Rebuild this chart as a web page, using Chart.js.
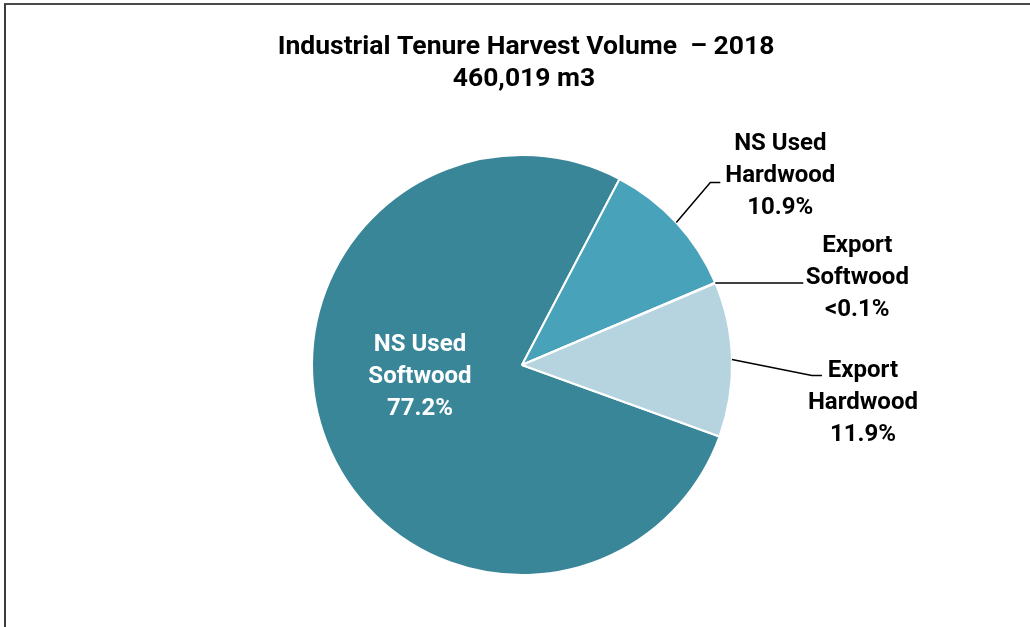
<!DOCTYPE html>
<html>
  <head>
    <title>Industrial Tenure Harvest Volume</title>
    <script src="https://cdn.jsdelivr.net/npm/chart.js"></script>
    <style>
      body { margin: 0; background: #fff; }
      #wrap { position: relative; width: 1030px; height: 627px; overflow: hidden; }
      #frame {
        position: absolute; left: 4px; top: 3px; width: 1100px; height: 700px;
        border-left: 2px solid #3c3c3c; border-top: 2px solid #4a4a4a;
      }
      canvas { position: absolute; left: 0; top: 0; }
    </style>
  </head>

  <body>
    <div id="wrap">
      <div id="frame"></div>
      <div style="position:absolute;left:0;top:0;width:1030px;height:627px">
        <canvas id="harvest"></canvas>
      </div>
    </div>

    <script>
      var titulo = ["Industrial Tenure Harvest Volume  \u2013 2018", "460,019 m3"];
      var categorias = ["NS Used Softwood", "NS Used Hardwood", "Export Softwood", "Export Hardwood"];
      var percentuais = [77.2, 10.9, 0.05, 11.9];
      var rotulos = [
        ["NS Used", "Softwood", "77.2%"],
        ["NS Used", "Hardwood", "10.9%"],
        ["Export", "Softwood", "<0.1%"],
        ["Export", "Hardwood", "11.9%"],
      ];
      var cores = ["#3a8699", "#48a2b9", "#3a8699", "#b6d4df"];

      // where each label sits: inside one relative to the pie centre,
      // the others relative to the edge of their slice
      var guias = [
        { dentro: [-102, 12] },
        { elbow: [34, -40], fim: [44, -40], texto: [104, -47] },
        { elbow: [44, 0], fim: [88, 0], texto: [142, -5] },
        { elbow: [80, 16], fim: [90, 16], texto: [131, 44] },
      ];

      var fonte = "bold 24px Roboto";
      var alturaLinha = 32;

      // title drawn by hand so it is not squeezed into the padded pie area
      var tituloPlugin = {
        id: "titulo",
        afterDraw(chart) {
          var ctx = chart.ctx;
          ctx.save();
          ctx.font = "bold 26.5px Roboto";
          ctx.fillStyle = "#000000";
          ctx.textAlign = "center";
          ctx.textBaseline = "middle";
          ctx.fillText(titulo[0], 526, 47);
          ctx.fillText(titulo[1], 524, 79);
          ctx.restore();
        },
      };

      var rotulosPlugin = {
        id: "rotulos",
        afterDatasetsDraw(chart) {
          var ctx = chart.ctx;
          var arcos = chart.getDatasetMeta(0).data;
          ctx.save();
          ctx.font = fonte;
          ctx.textAlign = "center";
          ctx.textBaseline = "middle";
          arcos.forEach((arco, i) => {
            var meio = (arco.startAngle + arco.endAngle) / 2;
            var linhas = rotulos[i];
            var g = guias[i];
            if (g.dentro) {
              var x = arco.x + g.dentro[0];
              var y = arco.y + g.dentro[1];
              ctx.fillStyle = "#ffffff";
              linhas.forEach((t, k) => ctx.fillText(t, x, y + (k - 1) * alturaLinha));
              return;
            }
            var px = arco.x + Math.cos(meio) * arco.outerRadius;
            var py = arco.y + Math.sin(meio) * arco.outerRadius;
            ctx.strokeStyle = "#000000";
            ctx.lineWidth = 1.5;
            ctx.beginPath();
            ctx.moveTo(px, py);
            ctx.lineTo(px + g.elbow[0], py + g.elbow[1]);
            ctx.lineTo(px + g.fim[0], py + g.fim[1]);
            ctx.stroke();
            ctx.fillStyle = "#000000";
            var tx = px + g.texto[0];
            var ty = py + g.texto[1];
            linhas.forEach((t, k) => ctx.fillText(t, tx, ty + (k - 1) * alturaLinha));
          });
          ctx.restore();
        },
      };

      var grafico = new Chart(document.getElementById("harvest").getContext("2d"), {
        type: "pie",
        data: {
          labels: categorias,
          datasets: [
            {
              data: percentuais,
              backgroundColor: cores,
              borderColor: "#ffffff",
              borderWidth: 2,
            },
          ],
        },
        options: {
          responsive: true,
          maintainAspectRatio: false,
          animation: false,
          rotation: 109.9,
          layout: { padding: { top: 154, left: 311, right: 297, bottom: 51 } },
          plugins: {
            legend: { display: false },
            tooltip: { enabled: false },
            title: { display: false },
          },
        },
        plugins: [rotulosPlugin, tituloPlugin],
      });
    </script>
  </body>
</html>
